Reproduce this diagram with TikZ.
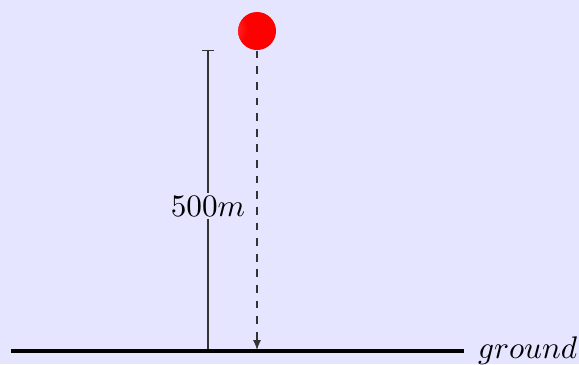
\documentclass[tikz,border=0pt]{standalone}
\usetikzlibrary{arrows.meta}
\pgfdeclareradialshading{redballshade}{\pgfpoint{-44bp}{4bp}}{color(0bp)=(red!55!white); color(8bp)=(red!80!white); color(22bp)=(red); color(100bp)=(red)}
\begin{document}
\begin{tikzpicture}[x=0.32pt,y=-0.32pt,
  bg/.style={fill=blue!10},
  ballnode/.style={circle,minimum size=12.16pt,inner sep=0pt,shading=redballshade},
  heightline/.style={black!80,line width=0.4pt},
  fallline/.style={black!80,line width=0.45pt,dash pattern=on 2.5pt off 2.5pt},
  groundline/.style={black,line width=1.3pt}]
\fill[bg] (0,0) rectangle (579,364);
\useasboundingbox (0,0) rectangle (579,364);
\coordinate (gl) at (11,351);
\coordinate (gr) at (464,351);
\coordinate (htop) at (208,50);
\coordinate (hbot) at (208,351);
\coordinate (fbot) at (257,350);
\node[ballnode] (ball) at (257,31) {};
\draw[heightline,{Bar[width=3.8pt]}-] (htop) -- (hbot);
\node[fill=blue!10,inner sep=1pt] (lbl) at (208,206) {$500m$};
\draw[fallline,-{Latex[length=3.2pt,width=2.6pt]}] (ball.south) -- (fbot);
\draw[groundline] (gl) -- (gr);
\node[anchor=west,inner xsep=4.3pt] (glabel) at (gr) {$ground$};
\end{tikzpicture}
\end{document}
